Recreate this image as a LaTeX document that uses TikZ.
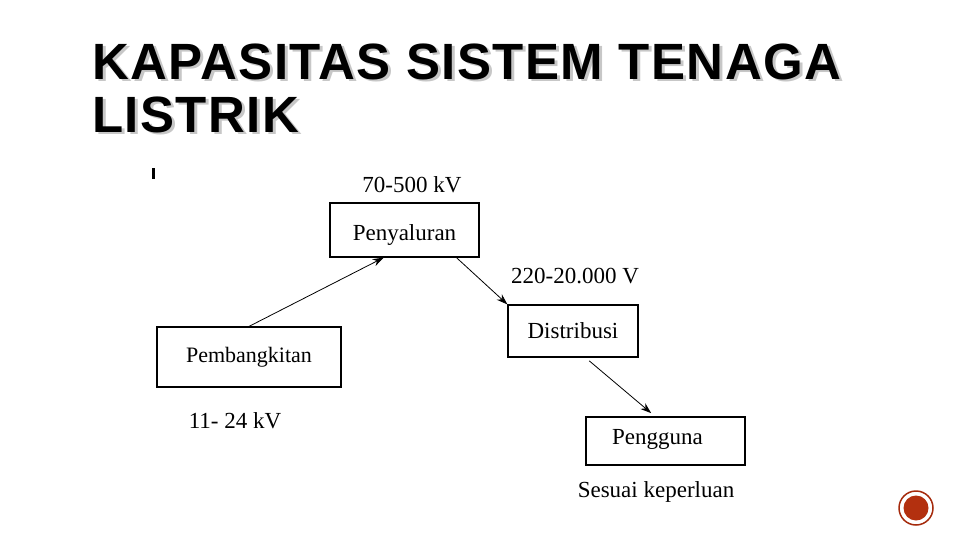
\documentclass[tikz,border=0pt]{standalone}
\usepackage{fontspec}
\usetikzlibrary{arrows.meta}
\setmainfont{Liberation Serif}
\newfontfamily\titlefont[LetterSpace=2.8]{Liberation Sans}
\definecolor{dotred}{HTML}{B3300F}
\definecolor{dotring}{HTML}{A52A0C}

\begin{document}
\begin{tikzpicture}[x=1pt, y=-1pt, >={Stealth[length=11pt, width=7.5pt]},
    box/.style={rectangle, draw, line width=1.2pt, inner sep=0pt, font=\fontsize{23}{26}\selectfont},
    lbl/.style={inner sep=0pt, font=\fontsize{23}{26}\selectfont},
    ttl/.style={anchor=base west, inner sep=0pt, font=\titlefont\bfseries\fontsize{51}{53}\selectfont}]

        \useasboundingbox (0,0) rectangle (960,540);

        % Title (grey shadow first)

        \node (t1s) at (95, 82) [ttl, text=black!22] {KAPASITAS SISTEM TENAGA};
        \node (t2s) at (95, 135) [ttl, text=black!22] {LISTRIK};

        \node (t1) at (92, 80) [ttl] {KAPASITAS SISTEM TENAGA};
        \node (t2) at (92, 133) [ttl] {LISTRIK};

        \node (bar) at (153.5, 173.5) [rectangle, fill, minimum width=3pt, minimum height=11pt, inner sep=0pt] {};

        % Define nodes (boxes)

        \node (penyaluran) at (404.5, 230) [box, minimum width=149pt, minimum height=54pt, text height=26pt, text depth=5pt] {Penyaluran};

        \node (pembangkitan) at (249, 357) [box, minimum width=184pt, minimum height=60pt, font=\fontsize{22}{26}\selectfont] {Pembangkitan};

        \node (distribusi) at (573, 331) [box, minimum width=130pt, minimum height=52pt] {Distribusi};

        \node (pengguna) at (665.5, 441) [box, minimum width=159pt, minimum height=48pt, text depth=9pt] {Pengguna\hspace*{16pt}};

        % Voltage labels

        \node (v1) at (412, 185) [lbl] {70-500 kV};

        \node (v2) at (235, 421) [lbl] {11- 24 kV};

        \node (v3) at (575, 276) [lbl] {220-20.000 V};

        \node (v4) at (656, 492) [lbl] {Sesuai keperluan};

        % Draw arrows between nodes

        \draw[->, line width=0.8pt] (pembangkitan.north) -- (penyaluran.233);

        \draw[->, line width=0.8pt] (penyaluran.332) -- (distribusi.north west);

        \draw[->, line width=0.8pt, shorten <=5pt, shorten >=5pt] (distribusi.295) -- (pengguna.113);

        % Page dot

        \node (dot) at (916, 508) [circle, draw=dotring, line width=1.5pt, fill=white, minimum size=34pt, inner sep=0pt] {};
        \node (dotin) at (dot) [circle, fill=dotred, minimum size=25pt, inner sep=0pt] {};

    \end{tikzpicture}
\end{document}
